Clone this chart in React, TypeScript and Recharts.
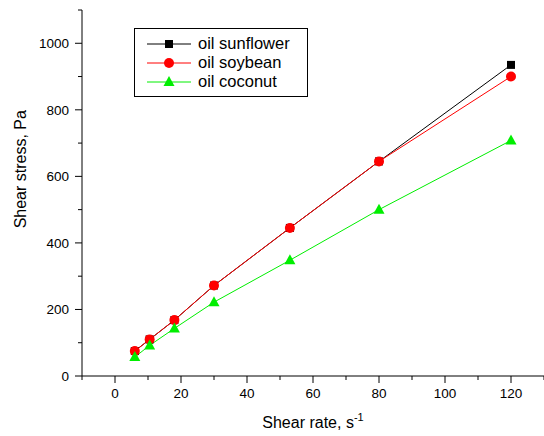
import React from "react";
import { Line, LineChart, XAxis, YAxis, Label } from "recharts";

const shearRate = [6, 10.5, 18, 30, 53, 80, 120];
const sunflower = [75, 110, 168, 272, 445, 645, 935];
const soybean = [75, 110, 168, 272, 445, 645, 900];
const coconut = [57, 92, 143, 222, 348, 500, 708];

const xTicks = [-10, 0, 10, 20, 30, 40, 50, 60, 70, 80, 90, 100, 110, 120, 130];
const yTicks = [0, 100, 200, 300, 400, 500, 600, 700, 800, 900, 1000, 1100];

const seriesNames = ["oil sunflower", "oil soybean", "oil coconut"];
const seriesColors = ["#000000", "#ff0000", "#00ee00"];

const data = shearRate.map((x, i) => ({
  x,
  sunflower: sunflower[i],
  soybean: soybean[i],
  coconut: coconut[i],
}));

const FONT = "'Liberation Sans', Arial, sans-serif";
const TICK = 7;
const MARGIN = 4;

function Marker({ kind, cx, cy, color }: { kind: number; cx: number; cy: number; color: string }) {
  if (kind === 0) return <rect x={cx - 4} y={cy - 4} width={8} height={8} fill={color} />;
  if (kind === 1) return <circle cx={cx} cy={cy} r={5} fill={color} />;
  return <polygon points={`${cx},${cy - 6} ${cx + 5.5},${cy + 4} ${cx - 5.5},${cy + 4}`} fill={color} />;
}

const dotFor = (kind: number) => (p: any) => (
  <Marker key={`${kind}-${p.index}`} kind={kind} cx={p.cx} cy={p.cy} color={seriesColors[kind]} />
);

function XTick(props: any) {
  const { x, y, payload } = props;
  const v = payload.value;
  const major = v % 20 === 0 && v >= 0 && v <= 120;
  const ay = y - TICK - MARGIN;
  return (
    <g>
      <line x1={x} x2={x} y1={ay} y2={ay + (major ? TICK : 4)} stroke="#000" />
      {major && (
        <text x={x} y={y} dy="0.8em" textAnchor="middle" fontSize={13.5} fontFamily={FONT} fill="#000">
          {v}
        </text>
      )}
    </g>
  );
}

function YTick(props: any) {
  const { x, y, payload } = props;
  const v = payload.value;
  const major = v % 200 === 0 && v <= 1000;
  const ax = x + TICK + MARGIN;
  return (
    <g>
      <line x1={ax - (major ? TICK : 4)} x2={ax} y1={y} y2={y} stroke="#000" />
      {major && (
        <text x={x - 2} y={y} dy="0.35em" textAnchor="end" fontSize={13.5} fontFamily={FONT} fill="#000">
          {v}
        </text>
      )}
    </g>
  );
}

function LegendBox() {
  return (
    <div
      style={{
        position: "absolute",
        left: 134,
        top: 28,
        width: 150,
        border: "1px solid #000",
        background: "#fff",
        padding: "5px 10px 5px 12px",
        fontFamily: FONT,
        fontSize: 16.5,
        lineHeight: "19px",
      }}
    >
      {seriesNames.map((name, i) => (
        <div key={name} style={{ display: "flex", alignItems: "center" }}>
          <svg width={46} height={19} style={{ marginRight: 5 }}>
            <line x1={0} x2={44} y1={10} y2={10} stroke={seriesColors[i]} />
            <Marker kind={i} cx={22} cy={10} color={seriesColors[i]} />
          </svg>
          <span>{name}</span>
        </div>
      ))}
    </div>
  );
}

export default function App() {
  return (
    <div style={{ position: "absolute", left: 0, top: 0, width: 544, height: 436, background: "#fff" }}>
      <LineChart width={544} height={436} data={data} margin={{ top: 10, right: 0, bottom: 0, left: 0 }}>
        <XAxis
          dataKey="x"
          type="number"
          domain={[-10, 130]}
          ticks={xTicks}
          interval={0}
          tickSize={TICK}
          tickMargin={MARGIN}
          tickLine={false}
          tick={<XTick />}
          stroke="#000"
          height={60}
        >
          <Label
            content={(p: any) => {
              const vb = p.viewBox;
              const cx = vb.x + vb.width / 2;
              return (
                <text x={cx} y={vb.y + 52} textAnchor="middle" fontSize={16} fontFamily={FONT} fill="#000">
                  Shear rate, s
                  <tspan dy={-7} fontSize={11}>-1</tspan>
                </text>
              );
            }}
          />
        </XAxis>
        <YAxis
          type="number"
          domain={[0, 1100]}
          ticks={yTicks}
          interval={0}
          tickSize={TICK}
          tickMargin={MARGIN}
          tickLine={false}
          tick={<YTick />}
          stroke="#000"
          width={82}
        >
          <Label
            content={(p: any) => {
              const vb = p.viewBox;
              const cx = 26;
              const cy = vb.y + vb.height * 0.435;
              return (
                <text
                  x={cx}
                  y={cy}
                  textAnchor="middle"
                  transform={`rotate(-90 ${cx} ${cy})`}
                  fontSize={16}
                  fontFamily={FONT}
                  fill="#000"
                >
                  Shear stress, Pa
                </text>
              );
            }}
          />
        </YAxis>
        <Line
          dataKey="sunflower"
          type="linear"
          stroke={seriesColors[0]}
          strokeWidth={1}
          dot={dotFor(0)}
          activeDot={false}
          isAnimationActive={false}
        />
        <Line
          dataKey="soybean"
          type="linear"
          stroke={seriesColors[1]}
          strokeWidth={1}
          dot={dotFor(1)}
          activeDot={false}
          isAnimationActive={false}
        />
        <Line
          dataKey="coconut"
          type="linear"
          stroke={seriesColors[2]}
          strokeWidth={1}
          dot={dotFor(2)}
          activeDot={false}
          isAnimationActive={false}
        />
      </LineChart>
      <LegendBox />
    </div>
  );
}
